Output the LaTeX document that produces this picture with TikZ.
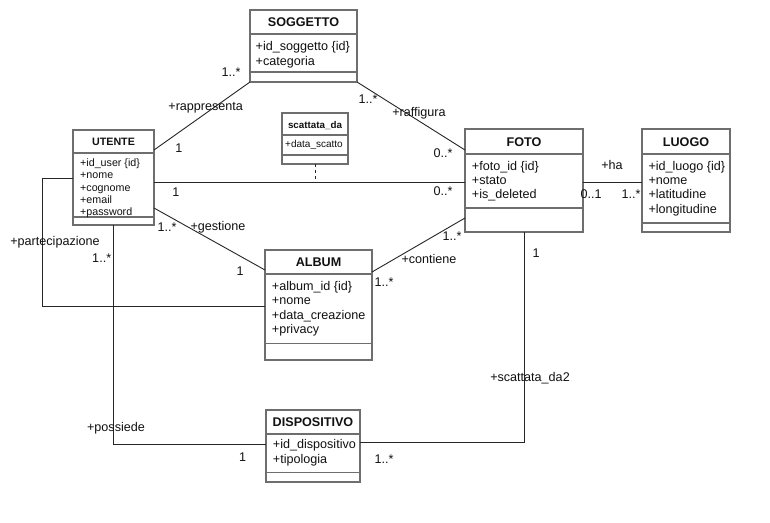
\documentclass[tikz,border=0pt]{standalone}
\usepackage{fontspec}
\setmainfont{Liberation Sans}
\usetikzlibrary{calc}
\definecolor{boxgray}{HTML}{6E6E6E}
\definecolor{linec}{HTML}{262626}
\definecolor{txt}{HTML}{111111}
\begin{document}
\begin{tikzpicture}[x=1pt,y=-1pt,
  cls/.style={draw=boxgray, line width=1.3pt, fill=white, inner sep=0pt, outer sep=0pt, anchor=north west},
  div/.style={draw=boxgray, line width=1.3pt},
  ttl/.style={font=\bfseries\fontsize{12.6}{14}\selectfont, text=txt, inner sep=0pt, anchor=base},
  att/.style={font=\fontsize{12.6}{14}\selectfont, text=txt, inner sep=0pt, anchor=base west},
  sttl/.style={font=\bfseries\fontsize{10.7}{12}\selectfont, text=txt, inner sep=0pt, anchor=base},
  satt/.style={font=\fontsize{10.7}{12}\selectfont, text=txt, inner sep=0pt, anchor=base west},
  xttl/.style={font=\bfseries\fontsize{9.8}{11}\selectfont, text=txt, inner sep=0pt, anchor=base},
  xatt/.style={font=\fontsize{10}{11}\selectfont, text=txt, inner sep=0pt, anchor=base west},
  lbl/.style={font=\fontsize{12.6}{14}\selectfont, text=txt, inner sep=0pt, anchor=base},
  conn/.style={draw=linec, line width=0.9pt},
  dconn/.style={draw=linec, line width=0.9pt, dash pattern=on 3pt off 3pt}
]
\useasboundingbox (0,0) rectangle (770,522);
\fill[white] (0,0) rectangle (770,522);

% ---------- classes ----------
% SOGGETTO
\node[cls, minimum width=107pt, minimum height=72pt] (sog) at (250,10) {};
\draw[div] (sog.west |- 0,34) -- (sog.east |- 0,34);
\draw[div] (sog.west |- 0,72) -- (sog.east |- 0,72);
\node[ttl] (sogt) at (303.5,26.8) {SOGGETTO};
\node[att] (soga1) at (255.5,50.8) {+id\_soggetto \{id\}};
\node[att] (soga2) at (255.5,65.2) {+categoria};

% UTENTE
\node[cls, minimum width=81pt, minimum height=95pt] (ute) at (73,130) {};
\draw[div] (ute.west |- 0,153) -- (ute.east |- 0,153);
\draw[div] (ute.west |- 0,217) -- (ute.east |- 0,217);
\node[sttl] (utet) at (113.5,145.5) {UTENTE};
\node[satt] (utea1) at (80,166) {+id\_user \{id\}};
\node[satt] (utea2) at (80,178.5) {+nome};
\node[satt] (utea3) at (80,191) {+cognome};
\node[satt] (utea4) at (80,203.3) {+email};
\node[satt] (utea5) at (80,215) {+password};

% scattata_da
\node[cls, minimum width=66pt, minimum height=51pt] (sca) at (282,113) {};
\draw[div] (sca.west |- 0,135) -- (sca.east |- 0,135);
\draw[div] (sca.west |- 0,155) -- (sca.east |- 0,155);
\node[xttl] (scat) at (315,128.3) {scattata\_da};
\node[xatt] (scaa1) at (285,147.8) {+data\_scatto};

% FOTO
\node[cls, minimum width=118pt, minimum height=103pt] (foto) at (465,129) {};
\draw[div] (foto.west |- 0,154) -- (foto.east |- 0,154);
\draw[div] (foto.west |- 0,208) -- (foto.east |- 0,208);
\node[ttl] (fotot) at (524,146.2) {FOTO};
\node[att] (fotoa1) at (471.7,170.2) {+foto\_id \{id\}};
\node[att] (fotoa2) at (471.7,184.5) {+stato};
\node[att] (fotoa3) at (471.7,198.8) {+is\_deleted};

% LUOGO
\node[cls, minimum width=88pt, minimum height=103pt] (luo) at (642,129) {};
\draw[div] (luo.west |- 0,154) -- (luo.east |- 0,154);
\draw[div] (luo.west |- 0,223) -- (luo.east |- 0,223);
\node[ttl] (luot) at (686,146.2) {LUOGO};
\node[att] (luoa1) at (648.3,170.2) {+id\_luogo \{id\}};
\node[att] (luoa2) at (648.3,184.5) {+nome};
\node[att] (luoa3) at (648.3,198.8) {+latitudine};
\node[att] (luoa4) at (648.3,213.1) {+longitudine};

% ALBUM
\node[cls, minimum width=107pt, minimum height=110pt] (alb) at (265,250) {};
\draw[div] (alb.west |- 0,274) -- (alb.east |- 0,274);
\draw[div] (alb.west |- 0,343.5) -- (alb.east |- 0,343.5);
\node[ttl] (albt) at (318.5,266.2) {ALBUM};
\node[att] (alba1) at (271.7,290.2) {+album\_id \{id\}};
\node[att] (alba2) at (271.7,304.6) {+nome};
\node[att] (alba3) at (271.7,319) {+data\_creazione};
\node[att] (alba4) at (271.7,333.4) {+privacy};

% DISPOSITIVO
\node[cls, minimum width=94pt, minimum height=72pt] (disp) at (266,410) {};
\draw[div] (disp.west |- 0,434) -- (disp.east |- 0,434);
\draw[div] (disp.west |- 0,472.5) -- (disp.east |- 0,472.5);
\node[ttl] (dispt) at (313,426.2) {DISPOSITIVO};
\node[att] (dispa1) at (272.7,448.5) {+id\_dispositivo};
\node[att] (dispa2) at (272.7,463.2) {+tipologia};

% ---------- connectors ----------
% UTENTE - SOGGETTO (rappresenta)
\draw[conn] ([yshift=-20pt]ute.north east) -- (sog.south west);
% SOGGETTO - FOTO (raffigura)
\draw[conn] (sog.south east) -- ([yshift=-21pt]foto.north west);
% UTENTE - FOTO (association class scattata_da)
\coordinate (uf1) at ([yshift=-4.5pt]ute.east);
\coordinate (uf2) at (uf1 -| foto.west);
\draw[conn] (uf1) -- (uf2);
\draw[dconn] (sca.south) -- (sca.south |- uf1);
% FOTO - LUOGO (ha)
\coordinate (fl1) at ([yshift=-1.5pt]foto.east);
\draw[conn] (fl1) -- (fl1 -| luo.west);
% UTENTE - ALBUM (gestione)
\draw[conn] ([yshift=17pt]ute.south east) -- ([yshift=-20pt]alb.north west);
% FOTO - ALBUM (contiene)
\draw[conn] ([yshift=14pt]foto.south west) -- ([yshift=-22pt]alb.north east);
% UTENTE - ALBUM (partecipazione)
\coordinate (pbend) at (42,0);
\draw[conn] ([yshift=-0.5pt]ute.west) -- ([yshift=-0.5pt]ute.west -| pbend) |- ([yshift=-1pt]alb.west);
% UTENTE - DISPOSITIVO (possiede)
\draw[conn] (ute.south) |- ([yshift=2pt]disp.west);
% FOTO - DISPOSITIVO (scattata_da2)
\draw[conn] (foto.south) |- ([yshift=4pt]disp.east);

% ---------- labels ----------
\node[lbl] (l1) at (231,76.5) {1..*};
\node[lbl] (l2) at (205.7,110.5) {+rappresenta};
\node[lbl] (l3) at (179,152.5) {1};
\node[lbl] (l4) at (368,103) {1..*};
\node[lbl] (l5) at (419,116.5) {+raffigura};
\node[lbl] (l6) at (443,157.5) {0..*};
\node[lbl] (l7) at (176,196) {1};
\node[lbl] (l8) at (443,195.5) {0..*};
\node[lbl] (l9) at (612,169.5) {+ha};
\node[lbl] (l10) at (591,198) {0..1};
\node[lbl] (l11) at (631,198) {1..*};
\node[lbl] (l12) at (167,231) {1..*};
\node[lbl] (l13) at (218,230) {+gestione};
\node[lbl] (l14) at (240,275.5) {1};
\node[lbl] (l15) at (55,245) {+partecipazione};
\node[lbl] (l16) at (101.7,262.5) {1..*};
\node[lbl] (l17) at (452,240.5) {1..*};
\node[lbl] (l18) at (429,263.5) {+contiene};
\node[lbl] (l19) at (384,286) {1..*};
\node[lbl] (l20) at (536,257) {1};
\node[lbl] (l21) at (530,381) {+scattata\_da2};
\node[lbl] (l22) at (116,431) {+possiede};
\node[lbl] (l23) at (242.7,461) {1};
\node[lbl] (l24) at (384,463) {1..*};
\end{tikzpicture}
\end{document}
